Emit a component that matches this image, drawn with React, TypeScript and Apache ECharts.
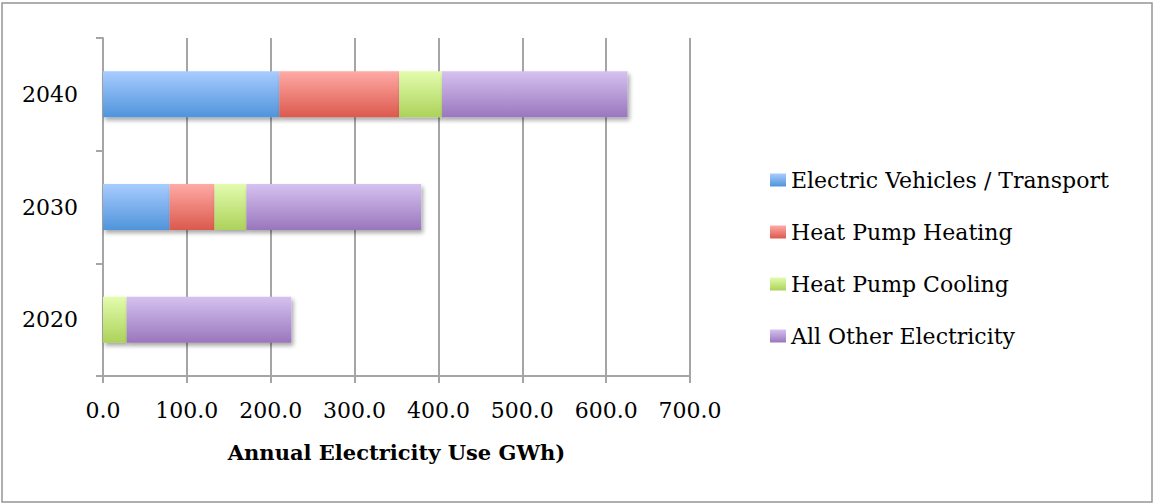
import React, { useEffect, useRef } from "react";
import * as echarts from "echarts";

const categories = ["2020", "2030", "2040"];
const seriesNames = [
  "Electric Vehicles / Transport",
  "Heat Pump Heating",
  "Heat Pump Cooling",
  "All Other Electricity",
];
const evTransport = [0, 79.4, 210.2];
const hpHeating = [0, 53.5, 143.0];
const hpCooling = [28.2, 38.1, 51.1];
const allOther = [196.4, 208.4, 221.2];
const xTicks = [0, 100, 200, 300, 400, 500, 600, 700];

const gradients: [string, string][] = [
  ["#a8ccff", "#4f94db"],
  ["#ffaaa6", "#db594c"],
  ["#e3fcae", "#acd25a"],
  ["#d5c2f0", "#9a76bd"],
];

const FONT = "DejaVu Serif";

export default function App() {
  const ref = useRef<HTMLDivElement>(null);
  useEffect(() => {
    if (!ref.current) return;
    const chart = echarts.init(ref.current, undefined, { renderer: "svg" });
    const values = [evTransport, hpHeating, hpCooling, allOther];
    const series = seriesNames.map((name, i) => ({
      name,
      type: "bar" as const,
      stack: "total",
      barWidth: 46,
      data: values[i],
      itemStyle: {
        color: new echarts.graphic.LinearGradient(0, 0, 0, 1, [
          { offset: 0, color: gradients[i][0] },
          { offset: 1, color: gradients[i][1] },
        ]),
        shadowColor: "rgba(0,0,0,0.35)",
        shadowBlur: 4,
        shadowOffsetX: 2,
        shadowOffsetY: 3,
      },
    }));
    chart.setOption({
      animation: false,
      backgroundColor: "#ffffff",
      textStyle: { fontFamily: FONT },
      graphic: [
        {
          type: "rect",
          shape: { x: 2, y: 3, width: 1150, height: 499 },
          style: { fill: "none", stroke: "#959595", lineWidth: 1.5 },
          silent: true,
          z: 100,
        },
      ],
      grid: { left: 103, right: 464, top: 38, bottom: 128, containLabel: false },
      legend: {
        orient: "vertical",
        left: 765,
        top: 164,
        itemWidth: 16,
        itemHeight: 13,
        itemGap: 30,
        icon: "rect",
        textStyle: { fontFamily: FONT, fontSize: 22, color: "#000" },
        data: seriesNames,
      },
      xAxis: {
        type: "value",
        min: xTicks[0],
        max: xTicks[xTicks.length - 1],
        interval: 100,
        name: "Annual Electricity Use GWh)",
        nameLocation: "middle",
        nameGap: 66,
        nameTextStyle: { fontFamily: FONT, fontSize: 21, fontWeight: "bold", color: "#000" },
        axisLine: { show: true, lineStyle: { color: "#a5a5a5", width: 2 } },
        axisTick: { show: true, length: 7, lineStyle: { color: "#a5a5a5", width: 2 } },
        axisLabel: {
          margin: 23,
          fontFamily: FONT,
          fontSize: 22,
          color: "#000",
          formatter: (v: number) => v.toFixed(1),
        },
        splitLine: { show: true, lineStyle: { color: "#a5a5a5", width: 2 } },
      },
      yAxis: {
        type: "category",
        data: categories,
        axisLine: { show: true, lineStyle: { color: "#a5a5a5", width: 2 } },
        axisTick: { show: true, length: 7, lineStyle: { color: "#a5a5a5", width: 2 } },
        axisLabel: { margin: 25, fontFamily: FONT, fontSize: 22, color: "#000" },
        splitLine: { show: false },
      },
      series,
    });
    return () => chart.dispose();
  }, []);
  return (
    <div
      ref={ref}
      style={{ position: "absolute", left: 0, top: 0, width: 1154, height: 504 }}
    />
  );
}
